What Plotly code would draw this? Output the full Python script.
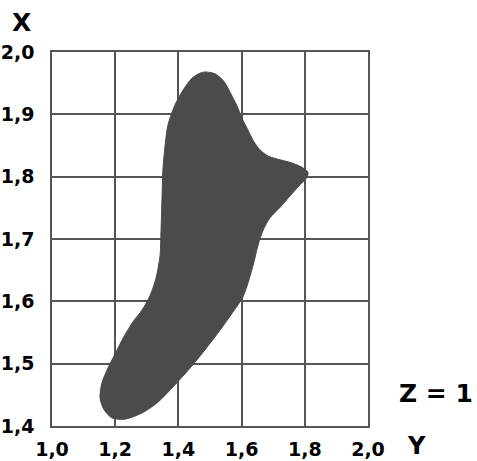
import plotly.graph_objects as go

# Outline of the shaded region (Y on horizontal axis, X on vertical axis)
outline_y = [1.484, 1.516, 1.544, 1.566, 1.585, 1.601, 1.620, 1.639, 1.658, 1.684,
             1.722, 1.759, 1.791, 1.810, 1.807, 1.785, 1.753, 1.722, 1.690, 1.668,
             1.652, 1.639, 1.623, 1.604, 1.570, 1.532, 1.484, 1.437, 1.389, 1.335,
             1.285, 1.231, 1.190, 1.165, 1.152, 1.158, 1.177, 1.199, 1.225, 1.256,
             1.285, 1.310, 1.329, 1.342, 1.345, 1.348, 1.351, 1.358, 1.367, 1.389,
             1.415, 1.443, 1.468, 1.484]
outline_x = [1.968, 1.965, 1.953, 1.933, 1.914, 1.894, 1.875, 1.856, 1.843, 1.833,
             1.827, 1.822, 1.815, 1.807, 1.799, 1.787, 1.769, 1.751, 1.734, 1.714,
             1.690, 1.663, 1.634, 1.607, 1.581, 1.554, 1.522, 1.493, 1.466, 1.438,
             1.421, 1.411, 1.413, 1.426, 1.445, 1.469, 1.493, 1.515, 1.541, 1.567,
             1.586, 1.609, 1.637, 1.674, 1.714, 1.763, 1.811, 1.851, 1.883, 1.915,
             1.939, 1.958, 1.966, 1.968]

y_axis_ticks = [1.0, 1.2, 1.4, 1.6, 1.8, 2.0]
x_axis_ticks = [1.4, 1.5, 1.6, 1.7, 1.8, 1.9, 2.0]
y_axis_labels = ["1,0", "1,2", "1,4", "1,6", "1,8", "2,0"]
x_axis_labels = ["1,4", "1,5", "1,6", "1,7", "1,8", "1,9", "2,0"]

FILL = "#4b4b4b"
GRID = "#555555"
FONT = "DejaVu Sans"

fig = go.Figure()
fig.add_trace(go.Scatter(
    x=outline_y, y=outline_x, mode="lines", fill="toself",
    fillcolor=FILL, line=dict(color=FILL, width=1, shape="spline", smoothing=0.8),
    hoverinfo="skip", showlegend=False,
))

axis_common = dict(
    showgrid=True, gridcolor=GRID, gridwidth=1.5,
    showline=True, mirror=True, linecolor=GRID, linewidth=1.5,
    zeroline=False, ticks="", automargin=False,
    tickfont=dict(family=FONT, size=19, color="black", weight="bold"),
)

fig.update_xaxes(range=[1.0, 2.0], tickvals=y_axis_ticks, ticktext=y_axis_labels,
                 ticklabelstandoff=5, **axis_common)
fig.update_yaxes(range=[1.4, 2.0], tickvals=x_axis_ticks, ticktext=x_axis_labels,
                 ticklabelstandoff=12, **axis_common)

ann_font = dict(family=FONT, size=25, color="black", weight="bold")
fig.update_layout(
    width=477, height=461,
    margin=dict(l=52, r=109, t=52, b=35),
    paper_bgcolor="white", plot_bgcolor="white",
    annotations=[
        dict(text="X", xref="paper", yref="paper", x=-0.095, y=1.08,
             showarrow=False, font=ann_font, xanchor="center", yanchor="middle"),
        dict(text="Y", xref="paper", yref="paper", x=1.155, y=-0.054,
             showarrow=False, font=dict(ann_font, size=24),
             xanchor="center", yanchor="middle"),
        dict(text="Z = 1", xref="paper", yref="paper", x=1.215, y=0.088,
             showarrow=False, font=ann_font, xanchor="center", yanchor="middle"),
    ],
)

fig.write_html("out.html", config={"displayModeBar": False},
               post_script="document.body.style.margin='0px';")
